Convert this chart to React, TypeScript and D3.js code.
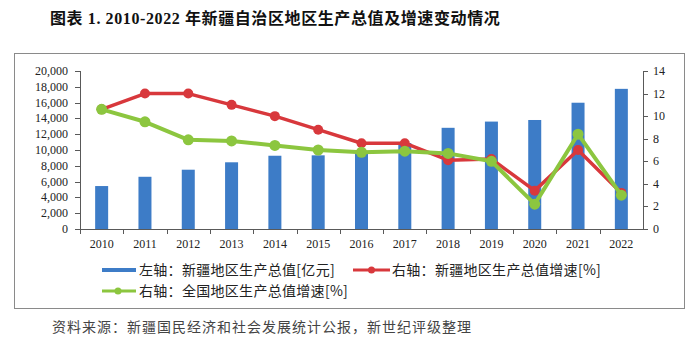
import React from "react";
import * as d3 from "d3";

const years = ["2010","2011","2012","2013","2014","2015","2016","2017","2018","2019","2020","2021","2022"];
const gdp = [5437, 6610, 7505, 8444, 9273, 9325, 9650, 10882, 12809, 13597, 13798, 15984, 17741];
const xjGrowth = [10.6, 12.0, 12.0, 11.0, 10.0, 8.8, 7.6, 7.6, 6.1, 6.2, 3.4, 7.0, 3.2];
const cnGrowth = [10.6, 9.5, 7.9, 7.8, 7.4, 7.0, 6.8, 6.9, 6.7, 6.0, 2.2, 8.4, 3.0];
const leftTicks = [0, 2000, 4000, 6000, 8000, 10000, 12000, 14000, 16000, 18000, 20000];
const rightTicks = [0, 2, 4, 6, 8, 10, 12, 14];

const BLUE = "#3d7cc7";
const RED = "#d8383c";
const GREEN = "#8cc63f";
const AXIS = "#595959";

export default function App() {
  const left = 80, right = 643, top = 71, bottom = 229;
  const x = d3.scaleBand().domain(years).range([left, right]);
  const yL = d3.scaleLinear().domain([0, 20000]).range([bottom, top]);
  const yR = d3.scaleLinear().domain([0, 14]).range([bottom, top]);
  const cx = (d: string) => (x(d) as number) + x.bandwidth() / 2;
  const line = (vals: number[]) =>
    d3.line<number>().x((_, i) => cx(years[i])).y((v) => yR(v))(vals) as string;
  const fmt = d3.format(",");
  const serif = "'Liberation Serif', 'DejaVu Serif', serif";
  const sans = "'Noto Sans CJK SC', 'Noto Sans', sans-serif";
  const barW = 13;

  return (
    <svg width={700} height={347} style={{ position: "absolute", left: 0, top: 0 }}>
      <rect width={700} height={347} fill="#fff" />
      <text x={50} y={24} fontFamily={`'Liberation Serif', 'Noto Sans CJK SC', serif`} fontWeight="bold" fontSize={16} letterSpacing={0.6} fill="#111">
        图表 1. 2010-2022 年新疆自治区地区生产总值及增速变动情况
      </text>
      <rect x={14.5} y={53.5} width={670} height={255} fill="none" stroke="#8a8a8a" strokeWidth={1} />

      {/* bars */}
      {years.map((yr, i) => (
        <rect key={yr} x={cx(yr) - barW / 2} y={yL(gdp[i])} width={barW} height={bottom - yL(gdp[i])} fill={BLUE} />
      ))}

      {/* left axis */}
      <line x1={left + 0.5} x2={left + 0.5} y1={top} y2={bottom} stroke={AXIS} />
      {leftTicks.map((t) => (
        <g key={t}>
          <line x1={left - 5} x2={left} y1={Math.round(yL(t)) + 0.5} y2={Math.round(yL(t)) + 0.5} stroke={AXIS} />
          <text x={68} y={yL(t) + 4} textAnchor="end" fontFamily={serif} fontSize={12} fill="#222">{fmt(t)}</text>
        </g>
      ))}
      {/* right axis */}
      <line x1={right + 0.5} x2={right + 0.5} y1={top} y2={bottom} stroke={AXIS} />
      {rightTicks.map((t) => (
        <g key={t}>
          <line x1={right} x2={right + 5} y1={Math.round(yR(t)) + 0.5} y2={Math.round(yR(t)) + 0.5} stroke={AXIS} />
          <text x={653} y={yR(t) + 4} textAnchor="start" fontFamily={serif} fontSize={12} fill="#222">{t}</text>
        </g>
      ))}
      {/* x axis */}
      <line x1={left} x2={right + 1} y1={bottom + 0.5} y2={bottom + 0.5} stroke={AXIS} />
      {years.map((yr) => (
        <g key={yr}>
          <line x1={Math.round(x(yr) as number) + 0.5} x2={Math.round(x(yr) as number) + 0.5} y1={bottom} y2={bottom + 5} stroke={AXIS} />
          <text x={cx(yr)} y={248} textAnchor="middle" fontFamily={serif} fontSize={12} fill="#222">{yr}</text>
        </g>
      ))}

      {/* lines */}
      <path d={line(xjGrowth)} fill="none" stroke={RED} strokeWidth={3.5} strokeLinejoin="round" />
      {xjGrowth.map((v, i) => (
        <circle key={i} cx={cx(years[i])} cy={yR(v)} r={5} fill={RED} />
      ))}
      <path d={line(cnGrowth)} fill="none" stroke={GREEN} strokeWidth={4} strokeLinejoin="round" />
      {cnGrowth.map((v, i) => (
        <circle key={i} cx={cx(years[i])} cy={yR(v)} r={5.5} fill={GREEN} />
      ))}

      {/* legend */}
      <g fontFamily={sans} fontSize={14} letterSpacing={0.3} fill="#222">
        <line x1={102} x2={136} y1={270} y2={270} stroke={BLUE} strokeWidth={4} />
        <text x={139} y={275}>左轴：新疆地区生产总值[亿元]</text>
        <line x1={353} x2={390} y1={270} y2={270} stroke={RED} strokeWidth={3} />
        <circle cx={371.5} cy={270} r={3.5} fill={RED} />
        <text x={392} y={275}>右轴：新疆地区生产总值增速[%]</text>
        <line x1={102} x2={136} y1={291} y2={291} stroke={GREEN} strokeWidth={3} />
        <circle cx={118} cy={291} r={3.5} fill={GREEN} />
        <text x={139} y={296}>右轴：全国地区生产总值增速[%]</text>
      </g>

      <text x={52} y={332} fontFamily={sans} fontSize={14} letterSpacing={1} fill="#444">
        资料来源：新疆国民经济和社会发展统计公报，新世纪评级整理
      </text>
    </svg>
  );
}
